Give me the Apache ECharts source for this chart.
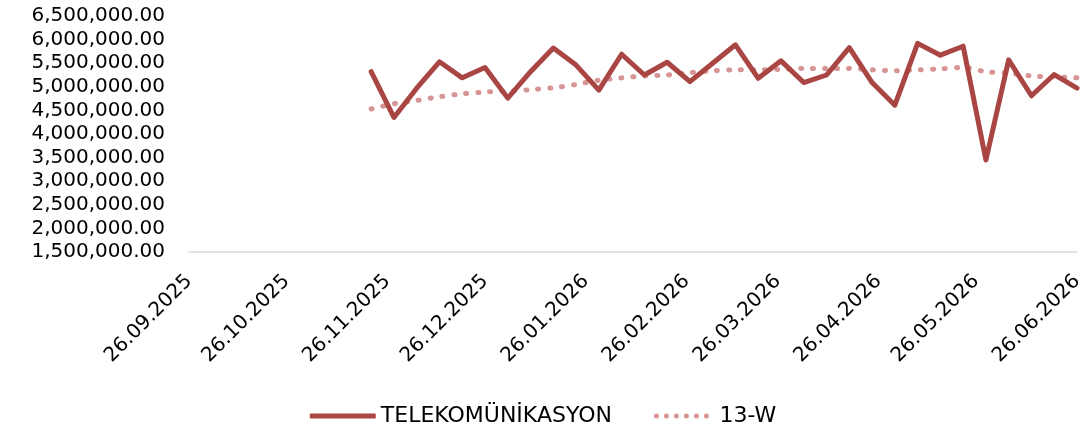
<!DOCTYPE html>
<html>
<head>
<meta charset="utf-8">
<script src="https://cdn.jsdelivr.net/npm/echarts@6/dist/echarts.min.js"></script>
<style>
  html, body { margin: 0; padding: 0; background: #fff; }
  #main { width: 1086px; height: 437px; }
</style>
</head>
<body>
<div id="main"></div>
<script>
    // haftalık tarihler (cuma)
    var weeks = [
        '2025-11-21', '2025-11-28', '2025-12-05', '2025-12-12', '2025-12-19', '2025-12-26',
        '2026-01-02', '2026-01-09', '2026-01-16', '2026-01-23', '2026-01-30',
        '2026-02-06', '2026-02-13', '2026-02-20', '2026-02-27',
        '2026-03-06', '2026-03-13', '2026-03-20', '2026-03-27',
        '2026-04-03', '2026-04-10', '2026-04-17', '2026-04-24',
        '2026-05-01', '2026-05-08', '2026-05-15', '2026-05-22', '2026-05-29',
        '2026-06-05', '2026-06-12', '2026-06-19', '2026-06-26'
    ];
    var telekom = [
        5320000, 4350000, 4970000, 5530000, 5190000, 5410000,
        4760000, 5320000, 5820000, 5460000, 4930000,
        5690000, 5250000, 5520000, 5110000,
        5500000, 5890000, 5180000, 5550000,
        5090000, 5250000, 5830000, 5090000,
        4610000, 5920000, 5670000, 5860000, 3450000,
        5570000, 4810000, 5260000, 4970000
    ];
    var avg13w = [
        4530000, 4640000, 4710000, 4790000, 4850000, 4890000,
        4910000, 4940000, 4980000, 5050000, 5140000,
        5190000, 5230000, 5250000, 5300000,
        5340000, 5360000, 5360000, 5370000,
        5390000, 5390000, 5390000, 5360000,
        5340000, 5360000, 5380000, 5410000, 5320000,
        5290000, 5230000, 5210000, 5190000
    ];
    // eksen etiketleri
    var tickDates = [
        '2025-09-26', '2025-10-26', '2025-11-26', '2025-12-26', '2026-01-26',
        '2026-02-26', '2026-03-26', '2026-04-26', '2026-05-26', '2026-06-26'
    ];
    var yMin = 1500000, yMax = 6500000, yStep = 500000;

    function ts(s) {
        var p = s.split('-');
        return Date.UTC(+p[0], +p[1] - 1, +p[2]);
    }
    function pad(n) { return (n < 10 ? '0' : '') + n; }

    // lejant için noktalı ikon
    var dotIcon = 'path://';
    for (var k = 0; k < 6; k++) {
        var cx = k * 10;
        dotIcon += 'M' + cx + ',2.5 a2.5,2.5 0 1,0 5,0 a2.5,2.5 0 1,0 -5,0 ';
    }

    var myChart = echarts.init(document.getElementById('main'));
    var font = 'DejaVu Sans';

    var option = {
        animation: false,
        textStyle: { fontFamily: font },
        grid: {
            left: 189, right: 9, top: 16, bottom: 185,
            outerBoundsMode: 'none'
        },
        legend: {
            bottom: 5,
            left: 'center',
            itemWidth: 66,
            itemHeight: 5,
            itemGap: 42,
            textStyle: { fontSize: 22, color: '#000', fontFamily: font },
            data: [
                { name: 'TELEKOMÜNİKASYON', icon: 'roundRect' },
                { name: '13-W', icon: dotIcon }
            ]
        },
        xAxis: {
            type: 'value',
            min: ts(tickDates[0]),
            max: ts(tickDates[tickDates.length - 1]),
            axisLine: { show: true, lineStyle: { color: '#d9d9d9', width: 1.5 } },
            axisTick: { show: false },
            splitLine: { show: false },
            axisLabel: {
                customValues: tickDates.map(ts),
                rotate: 45,
                margin: 26,
                fontSize: 20,
                color: '#000',
                hideOverlap: false,
                formatter: function (v) {
                    var d = new Date(v);
                    return pad(d.getUTCDate()) + '.' + pad(d.getUTCMonth() + 1) + '.' + d.getUTCFullYear();
                }
            }
        },
        yAxis: {
            type: 'value',
            min: yMin,
            max: yMax,
            interval: yStep,
            axisLine: { show: false },
            axisTick: { show: false },
            splitLine: { show: false },
            axisLabel: {
                margin: 24,
                fontSize: 20,
                color: '#000',
                formatter: function (v) {
                    return v.toLocaleString('en-US', { minimumFractionDigits: 2, maximumFractionDigits: 2 });
                }
            }
        },
        series: [
            {
                name: 'TELEKOMÜNİKASYON',
                type: 'line',
                symbol: 'none',
                itemStyle: { color: '#a94543' },
                lineStyle: { color: '#a94543', width: 5, join: 'round', cap: 'round' },
                data: weeks.map(function (d, i) { return [ts(d), telekom[i]]; }),
                z: 3
            },
            {
                name: '13-W',
                type: 'line',
                symbol: 'none',
                smooth: 0.3,
                itemStyle: { color: '#d69594' },
                lineStyle: { color: '#d69594', width: 5, type: [1, 11], cap: 'round' },
                data: weeks.map(function (d, i) { return [ts(d), avg13w[i]]; }),
                z: 2
            }
        ]
    };

    myChart.setOption(option);
</script>
</body>
</html>
